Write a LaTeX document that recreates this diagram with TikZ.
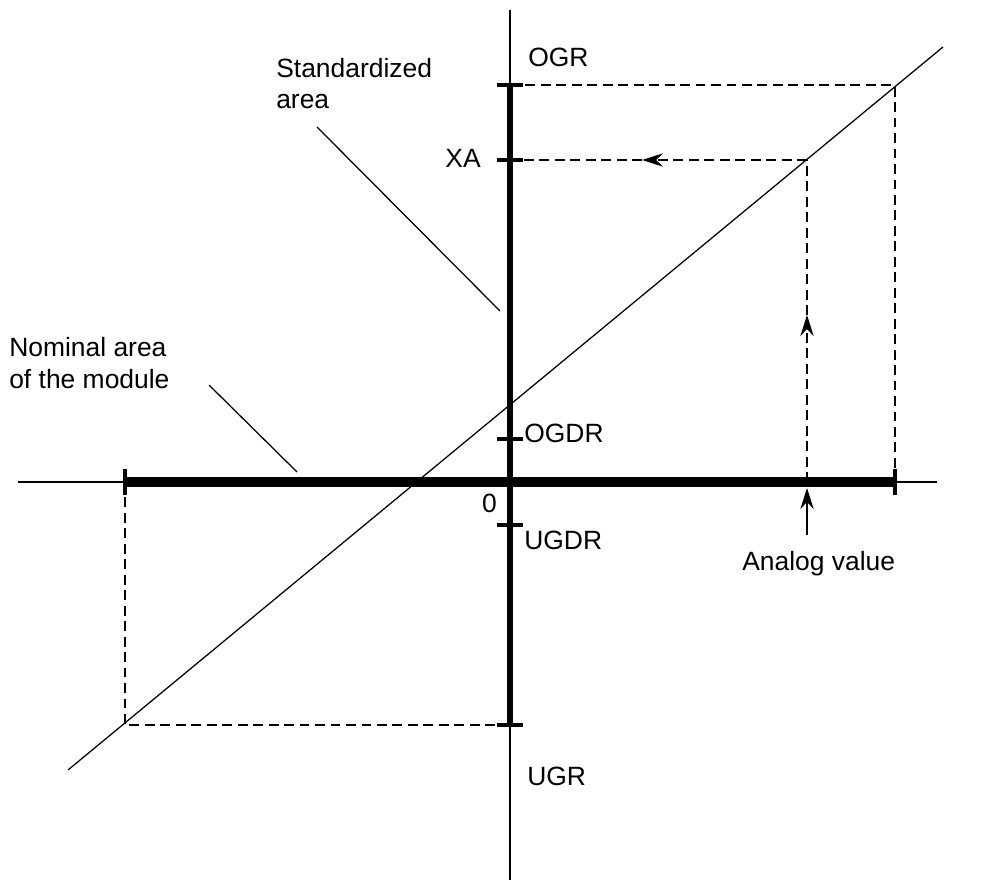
\documentclass[tikz,border=0pt]{standalone}
\usepackage{fontspec}
\setmainfont{Liberation Sans}
\usetikzlibrary{arrows.meta}

\begin{document}
\begin{tikzpicture}[x=0.025cm, y=-0.025cm,
    ax/.style={line width=0.9pt},
    vrng/.style={line width=3.6pt},
    hrng/.style={line width=7pt},
    tck/.style={line width=2.8pt},
    dsh/.style={line width=0.9pt, dash pattern=on 7pt off 4pt},
    arr/.style={-{Stealth[length=15pt, width=9.5pt, inset=5pt]}},
    lbl/.style={inner sep=0pt, font=\fontsize{18.8}{22.7}\selectfont, align=left}
  ]
    \useasboundingbox (0,0) rectangle (994,880);
    \coordinate (ogr)  at (510,85);
    \coordinate (xa)   at (510,160);
    \coordinate (ogdr) at (510,439);
    \coordinate (o)    at (510,482);
    \coordinate (ugdr) at (510,525);
    \coordinate (ugr)  at (510,725);
    \coordinate (lo)   at (125,482);
    \coordinate (hi)   at (895,482);
    \coordinate (av)   at (807,482);
    \coordinate (avx)  at (807,160);
    \coordinate (avm)  at (807,315);
    \coordinate (xam)  at (642,160);
    \draw[ax] (18,482) -- (937,482);
    \draw[ax] (510,10) -- (510,880);
    \draw[ax] (68,770) -- (943,47);
    \draw[vrng] (ogr) -- (ugr);
    \draw[hrng] (lo) -- (hi);
    \foreach \t in {ogr, xa, ogdr, ugdr, ugr}
      \draw[tck] ([xshift=-13*0.025cm]\t) -- ([xshift=13*0.025cm]\t);
    \foreach \t in {lo, hi}
      \draw[tck] ([yshift=13*0.025cm]\t) -- ([yshift=-13*0.025cm]\t);
    \draw[dsh] (ogr) -| (hi);
    \draw[dsh] (lo) |- (ugr);
    \draw[dsh, arr] (av) -- (avm);
    \draw[dsh] (avm) -- (avx);
    \draw[dsh, arr] (avx) -- (xam);
    \draw[dsh] (xam) -- (xa);
    \node[lbl, anchor=base west] (ogrl)  at (528,67)  {OGR};
    \node[lbl, anchor=base east] (xal)   at (481,168) {XA};
    \node[lbl, anchor=base west] (ogdrl) at (524,442) {OGDR};
    \node[lbl, anchor=base east] (ol)    at (497,512) {0};
    \node[lbl, anchor=base west] (ugdrl) at (524,549) {UGDR};
    \node[lbl, anchor=base west] (ugrl)  at (527,785) {UGR};
    \node[lbl, anchor=base west] (std)   at (276,109) {Standardized\\area};
    \node[lbl, anchor=base west] (nom)   at (9,388)   {Nominal area\\of the module};
    \node[lbl, anchor=base west] (anv)   at (742,570) {Analog value};
    \coordinate (stda) at (317,127);
    \coordinate (stdb) at (500,311);
    \coordinate (noma) at (209,385);
    \coordinate (nomb) at (297,472);
    \coordinate (anva) at (807,535);
    \coordinate (anvb) at (807,488);
    \draw[ax] (stda) -- (stdb);
    \draw[ax] (noma) -- (nomb);
    \draw[ax, arr] (anva) -- (anvb);
  \end{tikzpicture}
\end{document}
